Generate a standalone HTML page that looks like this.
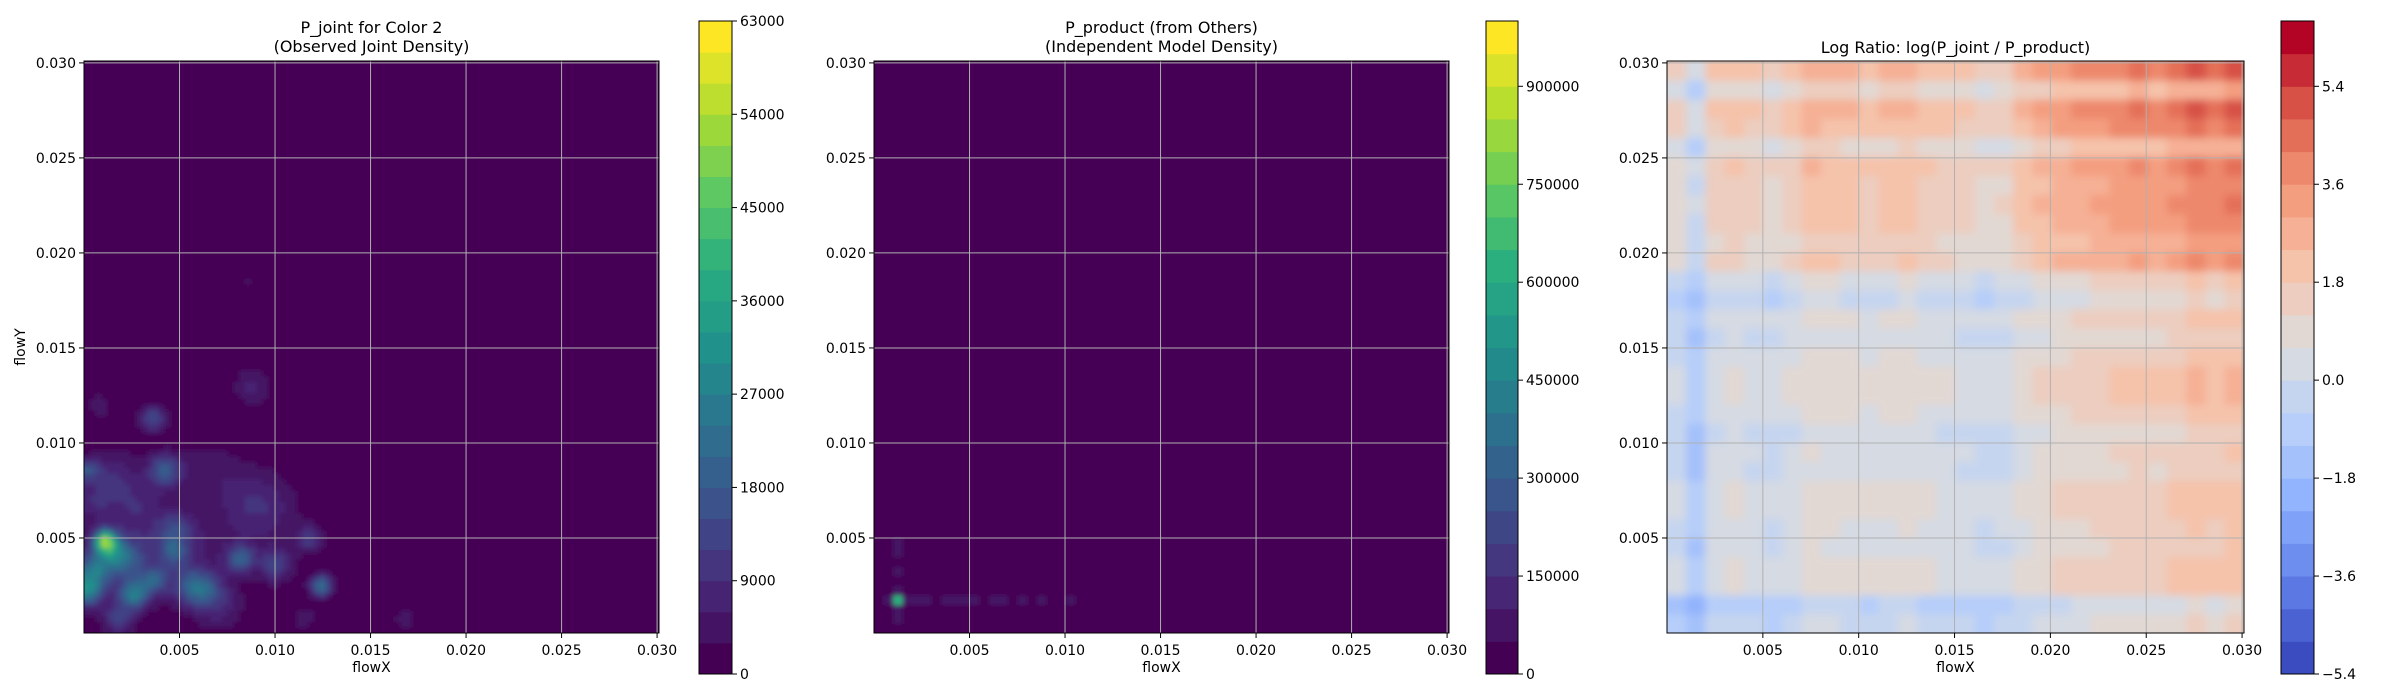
<!DOCTYPE html>
<html><head><meta charset="utf-8">
<style>
html,body{margin:0;padding:0;background:#fff;}
svg{display:block;font-family:"DejaVu Sans","Liberation Sans",sans-serif;}
</style></head>
<body>
<svg id="fig" width="2400" height="700" viewBox="0 0 2400 700" xmlns="http://www.w3.org/2000/svg">
<defs>
<filter id="blur1" x="-5%" y="-5%" width="110%" height="110%"><feGaussianBlur stdDeviation="2.5"/></filter>
<filter id="blur3" x="-5%" y="-5%" width="110%" height="110%"><feGaussianBlur stdDeviation="4"/></filter>
</defs>
</svg>
<script>
// ---------- DATA ----------
const axisMax = 0.0301;
const xTicks = [0.005, 0.010, 0.015, 0.020, 0.025, 0.030];
const yTicks = [0.005, 0.010, 0.015, 0.020, 0.025, 0.030];
const tickLabels = ["0.005","0.010","0.015","0.020","0.025","0.030"];

// Panel 1: observed joint density blobs (KDE peaks)
const blobX = [0.0011,0.0002,0.0005,0.0012,0.0020,0.0026,0.0018,0.0036,0.0042,0.0036,0.0002,0.0047,0.0055,0.0063,0.0082,0.0100,0.0124,0.0118,0.0088,0.0005,0.0048,0.0070,0.0115,0.0168,0.0027,0.0015,0.0008,0.0085,0.0090,0.0065,0.0030,0.0060,0.0095,0.0020];
const blobY = [0.0049,0.0022,0.0033,0.0045,0.0040,0.0020,0.0007,0.0028,0.0086,0.0113,0.0086,0.0043,0.0025,0.0023,0.0039,0.0036,0.0025,0.0050,0.0130,0.0070,0.0055,0.0015,0.0008,0.0008,0.0070,0.0085,0.0120,0.0185,0.0070,0.0085,0.0050,0.0045,0.0060,0.0030];
const blobAmp = [36000,24000,21000,16000,16000,21000,12000,15000,17000,15000,15000,14000,13000,12000,18000,13000,24000,11000,7000,7000,10000,8000,5000,4000,6000,7000,4000,3500,6000,5000,5000,5000,4000,7000];
const blobSigma = [0.0004,0.0005,0.0006,0.0005,0.0006,0.0005,0.0005,0.0005,0.0006,0.0005,0.0004,0.0005,0.0007,0.0006,0.0005,0.0006,0.0004,0.0005,0.0007,0.0008,0.0006,0.0009,0.0005,0.0006,0.0010,0.0009,0.0007,0.0004,0.0012,0.0012,0.0015,0.0015,0.0015,0.0015];
const levels1 = [0,3000,6000,9000,12000,15000,18000,21000,24000,27000,30000,33000,36000,39000,42000,45000,48000,51000,54000,57000,60000,63000];
const cbTicks1 = [0,9000,18000,27000,36000,45000,54000,63000];

// Panel 2: independent model = marginalX x marginalY (bins of 0.0005)
const margX = [0.02,0.10,1.00,0.12,0.10,0.12,0.08,0.10,0.12,0.09,0.10,0.08,0.10,0.09,0.08,0.10,0.08,0.10,0.08,0.07,0.09,0.08,0.07,0.05,0.01,0.01,0.01,0.01,0.01,0.01,0.01,0.01,0.01,0.01,0.01,0.01,0.01,0.01,0.01,0.01,0.01,0.01,0.01,0.01,0.01,0.01,0.01,0.01,0.01,0.01,0.01,0.01,0.01,0.01,0.01,0.01,0.01,0.01,0.01,0.01];
const margY = [0.02,0.10,0.12,1.00,0.10,0.08,0.09,0.08,0.10,0.09,0.08,0.07,0.08,0.07,0.06,0.07,0.06,0.06,0.05,0.06,0.05,0.05,0.04,0.01,0.01,0.01,0.01,0.01,0.01,0.01,0.01,0.01,0.01,0.01,0.01,0.01,0.01,0.01,0.01,0.01,0.01,0.01,0.01,0.01,0.01,0.01,0.01,0.01,0.01,0.01,0.01,0.01,0.01,0.01,0.01,0.01,0.01,0.01,0.01,0.01];
const scale2 = 620000;
const levels2 = [0,50000,100000,150000,200000,250000,300000,350000,400000,450000,500000,550000,600000,650000,700000,750000,800000,850000,900000,950000,1000000];
const cbTicks2 = [0,150000,300000,450000,600000,750000,900000];

// Panel 3: log ratio = colEffect + rowEffect + interaction (bins of 0.001)
const colEffect = [-0.3,-1.3,0.1,0.3,0.0,-0.2,0.2,0.6,0.5,0.4,0.3,0.4,0.5,0.3,0.2,0.0,-0.2,-0.1,0.4,0.7,0.9,1.0,1.1,1.2,1.3,1.2,1.4,1.7,1.5,1.8];
const rowEffect = [-0.5,-1.0,0.3,0.3,0.0,0.1,0.3,0.3,-0.1,0.0,-0.3,0.2,0.4,0.4,0.2,-0.2,0.2,-0.5,0.1,1.1,0.9,1.2,1.3,1.2,1.4,0.6,1.5,1.8,0.7,1.8];
const interaction = 0.5;
const levels3 = [-5.4,-4.8,-4.2,-3.6,-3.0,-2.4,-1.8,-1.2,-0.6,0.0,0.6,1.2,1.8,2.4,3.0,3.6,4.2,4.8,5.4,6.0,6.6];
const cbTicks3 = [-5.4,-3.6,-1.8,0.0,1.8,3.6,5.4];
const cbTickLabels3 = ["\u22125.4","\u22123.6","\u22121.8","0.0","1.8","3.6","5.4"];

// ---------- COLORMAPS ----------
const viridis = [[68,1,84],[71,45,123],[59,82,139],[44,114,142],[33,145,140],[40,174,128],[94,201,98],[173,220,48],[253,231,37]];
const coolwarm = [[59,76,192],[98,130,234],[141,176,254],[184,208,249],[221,221,221],[245,196,173],[244,154,123],[222,96,77],[180,4,38]];
function cmap(stops,t){t=Math.max(0,Math.min(1,t));const p=t*(stops.length-1);const i=Math.min(stops.length-2,Math.floor(p));const f=p-i;const a=stops[i],b=stops[i+1];return `rgb(${Math.round(a[0]+(b[0]-a[0])*f)},${Math.round(a[1]+(b[1]-a[1])*f)},${Math.round(a[2]+(b[2]-a[2])*f)})`;}
function bandColor(stops,levels,v){let k=0;for(let i=0;i<levels.length-1;i++){if(v>=levels[i])k=i;}if(v<levels[0])k=0;return cmap(stops,k/(levels.length-2));}

// ---------- LAYOUT ----------
const NS="http://www.w3.org/2000/svg";
const fig=document.getElementById('fig');
function mk(tag,attrs,parent){const e=document.createElementNS(NS,tag);for(const k in attrs)e.setAttribute(k,attrs[k]);(parent||fig).appendChild(e);return e;}
const axTop=61,axBot=633;
const panels=[{l:84,r:659,cb:[699,732]},{l:874,r:1449,cb:[1486,1518]},{l:1667,r:2244,cb:[2281,2314]}];
const cbTop=21,cbBot=674;

function drawPanel(pi,titleLines,cellFn,nx,ny,stops,levels,cbTicks,cbLabels,blurId,showY){
  const P=panels[pi];
  const xs=v=>P.l+(v/axisMax)*(P.r-P.l);
  const ys=v=>axBot-(v/axisMax)*(axBot-axTop);
  const g=mk('g',{});
  
  
  const clipId='clip'+pi;
  const cp=mk('clipPath',{id:clipId},g);mk('rect',{x:P.l,y:axTop,width:P.r-P.l,height:axBot-axTop},cp);
  const outer=mk('g',{'clip-path':`url(#${clipId})`},g);
  const hm=mk('g',{filter:`url(#${blurId})`},outer);
  
  
  const dx=axisMax/nx,dy=axisMax/ny;
  for(let i=-1;i<=nx;i++)for(let j=-1;j<=ny;j++){
    const ii=Math.max(0,Math.min(nx-1,i)),jj=Math.max(0,Math.min(ny-1,j));
    const v=cellFn(ii,jj,(ii+0.5)*dx,(jj+0.5)*dy);
    const x0=xs(i*dx),x1=xs((i+1)*dx),y0=ys((j+1)*dy),y1=ys(j*dy);
    const c=mk('rect',{x:x0,y:y0,width:x1-x0+0.6,height:y1-y0+0.6,fill:bandColor(stops,levels,v)},hm);
    
    
  }
  xTicks.forEach((t,k)=>{
    const ln=mk('line',{x1:xs(t),x2:xs(t),y1:axTop,y2:axBot,stroke:'#b0b0b0','stroke-width':1},g);
    
    
    mk('line',{x1:xs(t),x2:xs(t),y1:axBot,y2:axBot+5,stroke:'#000'},g);
    const tx=mk('text',{x:xs(t),y:axBot+22,'font-size':14,'text-anchor':'middle'},g);tx.textContent=tickLabels[k];
    
    
  });
  yTicks.forEach((t,k)=>{
    const ln=mk('line',{x1:P.l,x2:P.r,y1:ys(t),y2:ys(t),stroke:'#b0b0b0','stroke-width':1},g);
    
    
    mk('line',{x1:P.l-5,x2:P.l,y1:ys(t),y2:ys(t),stroke:'#000'},g);
    const tx=mk('text',{x:P.l-8,y:ys(t)+5,'font-size':14,'text-anchor':'end'},g);tx.textContent=tickLabels[k];
    
    
  });
  mk('rect',{x:P.l,y:axTop,width:P.r-P.l,height:axBot-axTop,fill:'none',stroke:'#000','stroke-width':1},g);
  const xl=mk('text',{x:(P.l+P.r)/2,y:672,'font-size':14,'text-anchor':'middle'},g);xl.textContent='flowX';
  
  
  if(showY){const yl=mk('text',{x:0,y:0,'font-size':14,'text-anchor':'middle',transform:`translate(25,${(axTop+axBot)/2}) rotate(-90)`},g);yl.textContent='flowY';
    
    }
  titleLines.forEach((s,k)=>{const tt=mk('text',{x:(P.l+P.r)/2,y:(titleLines.length===2?33:53)+k*19,'font-size':16,'text-anchor':'middle'},g);tt.textContent=s;
    
    });
  const cb=mk('g',{},g);
  
  
  const L0=levels[0],L1=levels[levels.length-1];
  const cy=v=>cbBot-(v-L0)/(L1-L0)*(cbBot-cbTop);
  for(let k=0;k<levels.length-1;k++){
    const r=mk('rect',{x:P.cb[0],y:cy(levels[k+1]),width:P.cb[1]-P.cb[0],height:cy(levels[k])-cy(levels[k+1])+0.5,fill:cmap(stops,k/(levels.length-2))},cb);
    
    
  }
  mk('rect',{x:P.cb[0],y:cbTop,width:P.cb[1]-P.cb[0],height:cbBot-cbTop,fill:'none',stroke:'#000'},cb);
  cbTicks.forEach((t,k)=>{
    mk('line',{x1:P.cb[1],x2:P.cb[1]+5,y1:cy(t),y2:cy(t),stroke:'#000'},cb);
    const tx=mk('text',{x:P.cb[1]+8,y:cy(t)+5,'font-size':14},cb);tx.textContent=cbLabels[k];
    
    
  });
}

drawPanel(0,['P_joint for Color 2','(Observed Joint Density)'],(i,j,x,y)=>{
  let s=0;for(let b=0;b<blobX.length;b++){const dx=x-blobX[b],dy=y-blobY[b];s+=blobAmp[b]*Math.exp(-(dx*dx+dy*dy)/(2*blobSigma[b]*blobSigma[b]));}
  return s;},100,100,viridis,levels1,cbTicks1,cbTicks1.map(String),'blur1',true);
drawPanel(1,['P_product (from Others)','(Independent Model Density)'],(i,j)=>margX[i]*margY[j]*scale2,60,60,viridis,levels2,cbTicks2,cbTicks2.map(String),'blur1',false);
drawPanel(2,['Log Ratio: log(P_joint / P_product)'],(i,j)=>{
  const c=colEffect[i],r=rowEffect[j];return c+r+interaction*Math.max(c,0)*Math.max(r,0);},30,30,coolwarm,levels3,cbTicks3,cbTickLabels3,'blur3',false);
</script>
</body></html>
